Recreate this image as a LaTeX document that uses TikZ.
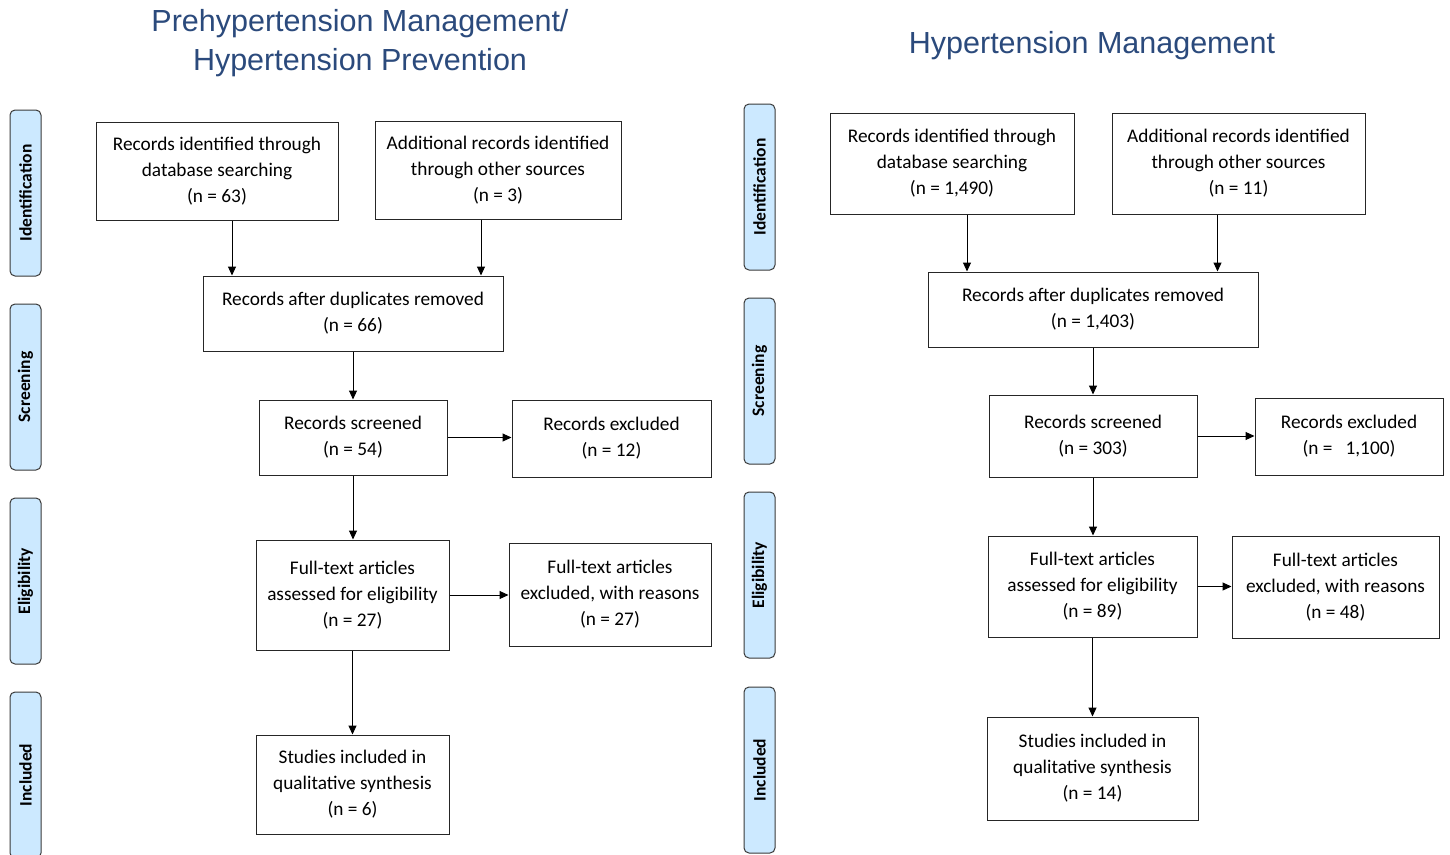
\documentclass[tikz,border=0pt]{standalone}
\usepackage{fontspec}
\setmainfont{Carlito}
\newfontfamily\titlefont{Liberation Sans}
\usetikzlibrary{arrows.meta}
\definecolor{titleblue}{HTML}{2B4A7C}
\definecolor{sidefill}{HTML}{CCE9FF}
\definecolor{sidedraw}{HTML}{3A3A3A}
\tikzset{
  box/.style={draw=black!85, line width=1pt, align=center, inner sep=2pt,
    font=\fontsize{19.3}{26}\selectfont},
  side/.style={draw=sidedraw, fill=sidefill, line width=1pt, rounded corners=5pt,
    minimum width=31pt, minimum height=166pt},
  sidetext/.style={rotate=90, font=\bfseries\fontsize{17.5}{19}\selectfont},
  arr/.style={line width=1pt, -{Triangle[length=9pt,width=8pt]}},
  ttl/.style={text=titleblue, align=center, font=\titlefont\fontsize{30.5}{39}\selectfont}
}
\begin{document}
\begin{tikzpicture}[x=1pt,y=-1pt]
\clip (0,0) rectangle (1450,854);
\fill[white] (0,0) rectangle (1450,854);

% titles
\node[ttl] (t1) at (360,43) {Prehypertension Management/\\Hypertension Prevention};
\node[ttl] (t2) at (1092,46) {Hypertension Management};

% left side labels
\node[side] (ls1) at (25.5,193) {};
\node[sidetext] at (ls1) {Identification};
\node[side] (ls2) at (25.5,387) {};
\node[sidetext] at (ls2) {Screening};
\node[side] (ls3) at (25.5,581) {};
\node[sidetext] at (ls3) {Eligibility};
\node[side] (ls4) at (25.5,775) {};
\node[sidetext] at (ls4) {Included};

% right side labels
\node[side] (rs1) at (759.5,187) {};
\node[sidetext] at (rs1) {Identification};
\node[side] (rs2) at (759.5,381) {};
\node[sidetext] at (rs2) {Screening};
\node[side] (rs3) at (759.5,575) {};
\node[sidetext] at (rs3) {Eligibility};
\node[side] (rs4) at (759.5,770) {};
\node[sidetext] at (rs4) {Included};

% left flow
\node[box, minimum width=242pt, minimum height=98pt] (a1) at (217,171)
  {Records identified through\\database searching\\(n = 63)};
\node[box, minimum width=246pt, minimum height=98pt] (a2) at (498,170)
  {Additional records identified\\through other sources\\(n = 3)};
\node[box, minimum width=300pt, minimum height=75pt] (a3) at (353,313.5)
  {Records after duplicates removed\\(n = 66)};
\node[box, minimum width=188pt, minimum height=75pt] (a4) at (353,437.5)
  {Records screened\\(n = 54)};
\node[box, minimum width=199pt, minimum height=77pt] (a5) at (611.5,438.5)
  {Records excluded\\(n = 12)};
\node[box, minimum width=193pt, minimum height=110pt] (a6) at (352.5,595)
  {Full-text articles\\assessed for eligibility\\(n = 27)};
\node[box, minimum width=202pt, minimum height=103pt] (a7) at (610,594.5)
  {Full-text articles\\excluded, with reasons\\(n = 27)};
\node[box, minimum width=193pt, minimum height=99pt] (a8) at (352.5,784.5)
  {Studies included in\\qualitative synthesis\\(n = 6)};

\draw[arr] ([xshift=15pt]a1.south) -- ([xshift=15pt]a1.south |- a3.north);
\draw[arr] ([xshift=-17pt]a2.south) -- ([xshift=-17pt]a2.south |- a3.north);
\draw[arr] (a3.south) -- (a3.south |- a4.north);
\draw[arr] (a4.east) -- (a4.east -| a5.west);
\draw[arr] (a4.south) -- (a4.south |- a6.north);
\draw[arr] (a6.east) -- (a6.east -| a7.west);
\draw[arr] (a6.south) -- (a6.south |- a8.north);

% right flow
\node[box, minimum width=244pt, minimum height=101pt] (b1) at (952,163.5)
  {Records identified through\\database searching\\(n = 1,490)};
\node[box, minimum width=253pt, minimum height=101pt] (b2) at (1238.5,163.5)
  {Additional records identified\\through other sources\\(n = 11)};
\node[box, minimum width=330pt, minimum height=75pt] (b3) at (1093,309.5)
  {Records after duplicates removed\\(n = 1,403)};
\node[box, minimum width=208pt, minimum height=82pt] (b4) at (1093,436)
  {Records screened\\(n = 303)};
\node[box, minimum width=188pt, minimum height=77pt] (b5) at (1349,436.5)
  {Records excluded\\(n =\ \ \ 1,100)};
\node[box, minimum width=209pt, minimum height=101pt] (b6) at (1092.5,586.5)
  {Full-text articles\\assessed for eligibility\\(n = 89)};
\node[box, minimum width=207pt, minimum height=102pt] (b7) at (1335.5,587)
  {Full-text articles\\excluded, with reasons\\(n = 48)};
\node[box, minimum width=211pt, minimum height=103pt] (b8) at (1092.5,768.5)
  {Studies included in\\qualitative synthesis\\(n = 14)};

\draw[arr] ([xshift=15pt]b1.south) -- ([xshift=15pt]b1.south |- b3.north);
\draw[arr] ([xshift=-21pt]b2.south) -- ([xshift=-21pt]b2.south |- b3.north);
\draw[arr] (b3.south) -- (b3.south |- b4.north);
\draw[arr] (b4.east) -- (b4.east -| b5.west);
\draw[arr] (b4.south) -- (b4.south |- b6.north);
\draw[arr] (b6.east) -- (b6.east -| b7.west);
\draw[arr] (b6.south) -- (b6.south |- b8.north);
\end{tikzpicture}
\end{document}
